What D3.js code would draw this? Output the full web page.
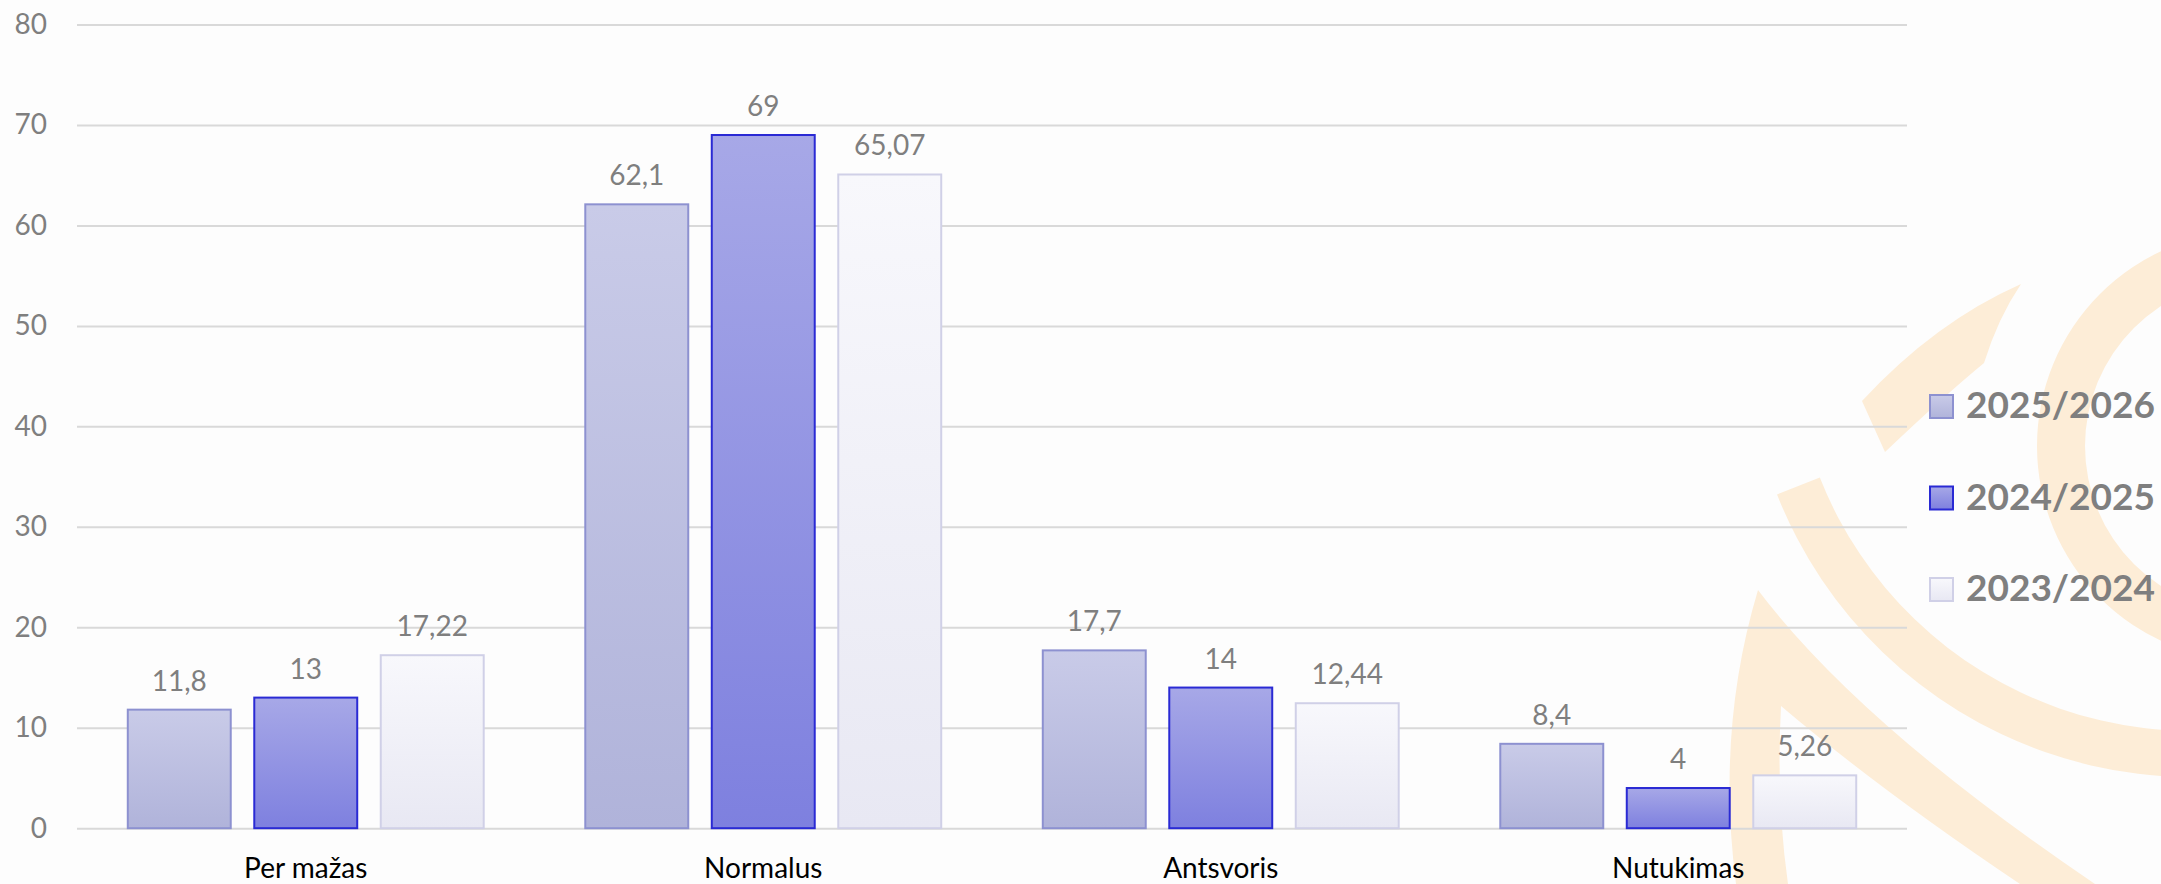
<!DOCTYPE html>
<html>
<head>
<meta charset="utf-8">
<script src="https://cdn.jsdelivr.net/npm/d3@7"></script>
<style>
  html, body { margin: 0; padding: 0; background: #fdfdfd; }
  svg { display: block; font-family: Lato, "Open Sans", sans-serif; }
</style>
</head>
<body>
<div id="chart"></div>
<script>
const categories = ["Per mažas", "Normalus", "Antsvoris", "Nutukimas"];
const seriesNames = ["2025/2026", "2024/2025", "2023/2024"];
const values2526 = [11.8, 62.1, 17.7, 8.4];
const values2425 = [13, 69, 14, 4];
const values2324 = [17.22, 65.07, 12.44, 5.26];
const yTicks = [0, 10, 20, 30, 40, 50, 60, 70, 80];

const seriesValues = [values2526, values2425, values2324];

// fill gradients (top, bottom) and outlines for each series
const styles = [
  { top: "#c9cbe8", bottom: "#b0b3da", stroke: "#8d91d0" },
  { top: "#a7a8e7", bottom: "#7e80df", stroke: "#2a2ad4" },
  { top: "#f8f8fc", bottom: "#e8e8f3", stroke: "#d0d0e7" },
];

const width = 2161,
  height = 884;
const margin = { top: 24.5, right: 254, bottom: 56, left: 77 };

let svg = d3
  .select("#chart")
  .append("svg")
  .attr("width", width)
  .attr("height", height);

svg.append("rect").attr("width", width).attr("height", height).attr("fill", "#fdfdfd");

// watermark logo in the background (decoration only)
let mark = svg.append("g").attr("fill", "#fdedd7");

mark
  .append("path")
  .attr(
    "d",
    d3.arc()({ innerRadius: 167, outerRadius: 215, startAngle: 0, endAngle: 2 * Math.PI })
  )
  .attr("transform", "translate(2252,446)");

mark
  .append("path")
  .attr(
    "d",
    d3.arc()({
      innerRadius: 400,
      outerRadius: 446,
      startAngle: (150 * Math.PI) / 180,
      endAngle: (248.5 * Math.PI) / 180,
    })
  )
  .attr("transform", "translate(2192,331)");

mark
  .append("path")
  .attr("d", "M2021,284 Q1935,322 1862,401 L1885,452 Q1945,395 1984,363 Q1998,318 2021,284 Z");

mark
  .append("path")
  .attr(
    "d",
    "M1758,590 Q1860,725 2095,884 L2020,884 Q1880,790 1781,706 Q1776,800 1788,884 L1736,884 Q1716,730 1758,590 Z"
  );

const plotW = width - margin.left - margin.right;
const plotH = height - margin.top - margin.bottom;

let g = svg
  .append("g")
  .attr("transform", "translate(" + margin.left + "," + margin.top + ")");

let x0 = d3
  .scaleBand()
  .domain(categories)
  .range([0, plotW])
  .paddingInner(0.222)
  .paddingOuter(0.111);

let x1 = d3
  .scaleBand()
  .domain(seriesNames)
  .range([0, x0.bandwidth()])
  .paddingInner(0.186)
  .paddingOuter(0);

let y = d3.scaleLinear().domain([0, 80]).range([plotH + 0.2, 0]);

let defs = svg.append("defs");
styles.forEach(function (s, i) {
  let grad = defs
    .append("linearGradient")
    .attr("id", "grad" + i)
    .attr("x1", 0)
    .attr("y1", 0)
    .attr("x2", 0)
    .attr("y2", 1);
  grad.append("stop").attr("offset", "0%").attr("stop-color", s.top);
  grad.append("stop").attr("offset", "100%").attr("stop-color", s.bottom);
});

// gridlines + y labels
let yAxis = g
  .append("g")
  .attr("class", "y-axis")
  .call(
    d3
      .axisLeft(y)
      .tickValues(yTicks)
      .tickSize(-plotW)
      .tickPadding(30)
      .tickFormat(d3.format("d"))
  );
yAxis.select(".domain").remove();
yAxis.selectAll(".tick line").attr("stroke", "#d9d9d9").attr("stroke-width", 2);
yAxis
  .selectAll(".tick text")
  .attr("fill", "#7f7f7f")
  .style("font-size", "28px")
  .style("font-family", "Lato, sans-serif");

// x category labels
let xAxis = g
  .append("g")
  .attr("class", "x-axis")
  .attr("transform", "translate(0," + plotH + ")")
  .call(d3.axisBottom(x0).tickSize(0).tickPadding(30));
xAxis.select(".domain").remove();
xAxis
  .selectAll(".tick text")
  .attr("fill", "#000")
  .attr("dy", "0.71em")
  .style("font-size", "28px")
  .style("font-family", "Lato, sans-serif");

// bars
let groups = g
  .selectAll(".cat")
  .data(categories)
  .enter()
  .append("g")
  .attr("class", "cat")
  .attr("transform", function (d) {
    return "translate(" + x0(d) + ",0)";
  });

seriesNames.forEach(function (name, si) {
  groups
    .append("rect")
    .attr("x", x1(name))
    .attr("y", function (d, ci) {
      return y(seriesValues[si][ci]);
    })
    .attr("width", x1.bandwidth())
    .attr("height", function (d, ci) {
      return y(0) - y(seriesValues[si][ci]);
    })
    .attr("fill", "url(#grad" + si + ")")
    .attr("stroke", styles[si].stroke)
    .attr("stroke-width", 2);

  groups
    .append("text")
    .attr("x", x1(name) + x1.bandwidth() / 2)
    .attr("y", function (d, ci) {
      return y(seriesValues[si][ci]) - 19;
    })
    .attr("text-anchor", "middle")
    .attr("fill", "#7f7f7f")
    .style("font-size", "28px")
    .text(function (d, ci) {
      return String(seriesValues[si][ci]).replace(".", ",");
    });
});

// legend
let legend = svg
  .append("g")
  .attr("class", "legend")
  .attr("transform", "translate(1929,394)");

seriesNames.forEach(function (name, i) {
  let row = legend.append("g").attr("transform", "translate(0," + i * 91.5 + ")");
  row
    .append("rect")
    .attr("x", 1)
    .attr("y", 1)
    .attr("width", 23)
    .attr("height", 23)
    .attr("fill", "url(#grad" + i + ")")
    .attr("stroke", styles[i].stroke)
    .attr("stroke-width", 2);
  row
    .append("text")
    .attr("x", 37)
    .attr("y", 24)
    .attr("fill", "#7f7f7f")
    .style("font-size", "37px")
    .style("font-weight", "bold")
    .text(name);
});
</script>
</body>
</html>
